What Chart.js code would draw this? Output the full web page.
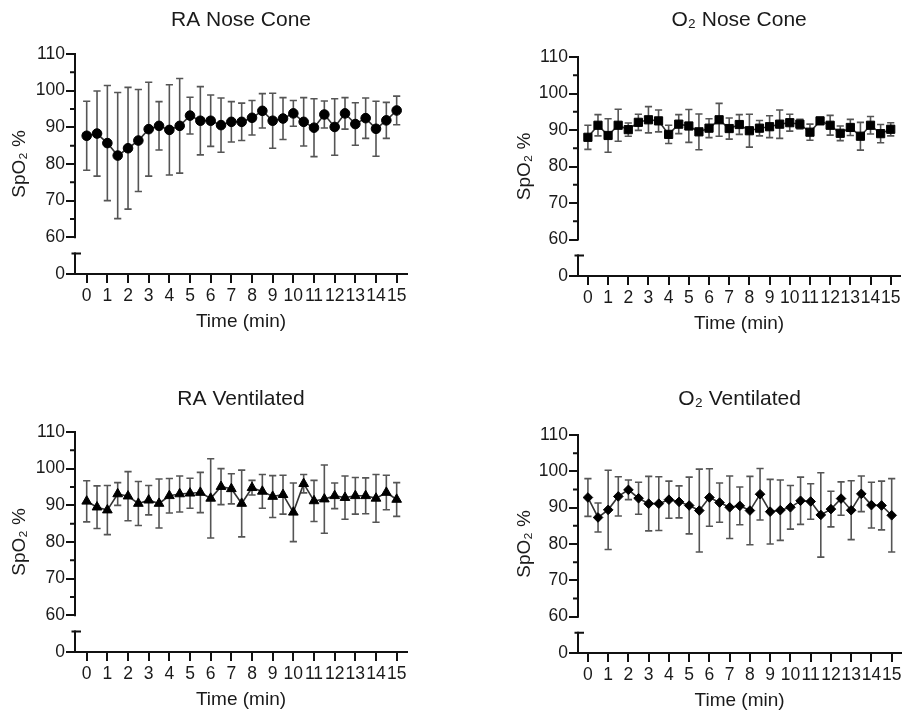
<!DOCTYPE html>
<html><head><meta charset="utf-8">
<script src="https://cdn.jsdelivr.net/npm/chart.js@4.4.1/dist/chart.umd.min.js"></script>
<style>
html,body{margin:0;padding:0;background:#fff;}
#wrap{position:relative;width:907px;height:712px;overflow:hidden;background:#fff;}
canvas{position:absolute;}
</style></head><body>
<div id="wrap">
<canvas id="c1"></canvas><canvas id="c2"></canvas><canvas id="c3"></canvas><canvas id="c4"></canvas>
</div>
<script>
// ---- data ----
const times = [0,0.5,1,1.5,2,2.5,3,3.5,4,4.5,5,5.5,6,6.5,7,7.5,8,8.5,9,9.5,10,10.5,11,11.5,12,12.5,13,13.5,14,14.5,15];
const xTicks = [0,1,2,3,4,5,6,7,8,9,10,11,12,13,14,15];
const yTicks = [50,60,70,80,90,100,110];          // 50 sits below the axis break and is labelled "0"
const yTickLabels = ['0','60','70','80','90','100','110'];
const yMinorTicks = [65,75,85,95,105];
const yBreakTop = 55.6;

const raNoseMean = [87.7,88.3,85.7,82.3,84.3,86.4,89.5,90.4,89.3,90.4,93.2,91.8,91.8,90.6,91.5,91.5,92.6,94.5,91.8,92.4,93.8,91.5,89.9,93.5,90.1,93.8,90.9,92.5,89.6,91.9,94.6];
const raNoseSD   = [9.4,11.6,15.7,17.2,16.6,13.9,12.8,6.6,12.3,12.9,5.0,9.3,7.0,7.4,5.5,5.1,4.7,4.7,7.5,5.7,3.5,6.6,7.9,3.7,7.7,4.3,5.8,5.5,7.5,4.9,3.9];

const o2NoseMean = [88.0,91.3,88.5,91.3,90.1,92.1,92.8,92.5,88.8,91.6,91.1,89.5,90.5,92.8,90.4,91.5,89.8,90.5,90.9,91.6,92.0,91.6,89.4,92.5,91.3,89.1,90.7,88.3,91.3,89.0,90.2];
const o2NoseSD   = [3.3,2.9,4.6,4.4,1.8,2.2,3.6,3.0,2.5,2.6,4.5,4.9,2.6,4.5,2.9,2.7,4.5,2.1,3.0,3.9,2.3,1.3,2.2,0.9,2.7,2.0,2.2,3.8,2.4,2.5,1.8];

const raVentMean = [91.1,89.5,88.7,93.1,92.5,90.5,91.4,90.5,92.6,93.1,93.3,93.5,91.9,95.1,94.5,90.5,94.8,93.8,92.4,92.9,88.1,95.9,91.2,91.7,92.6,92.1,92.6,92.6,91.9,93.5,91.6];
const raVentSD   = [5.6,5.8,6.7,3.1,6.7,6.0,4.0,6.7,4.7,4.9,4.1,5.5,10.8,4.9,4.1,9.1,2.0,4.6,5.7,5.3,8.0,2.5,5.6,9.3,3.5,5.9,5.0,4.9,6.5,4.7,4.6];

const o2VentMean = [92.8,87.3,89.4,93.1,94.9,92.6,91.1,91.1,92.2,91.6,90.6,89.2,92.8,91.4,90.1,90.5,89.2,93.7,88.9,89.3,90.1,91.9,91.7,88.0,89.6,92.5,89.3,93.8,90.7,90.6,87.9];
const o2VentSD   = [5.2,4.0,10.9,5.4,2.7,4.4,7.5,7.4,5.1,4.4,7.8,11.4,7.9,5.4,8.6,5.2,9.4,7.1,8.9,8.3,6.0,6.5,4.9,11.6,4.9,4.6,8.1,4.9,6.3,6.7,10.1];

// ---- layout / styles ----
const FONT = "'Liberation Sans', Arial, Helvetica, sans-serif";
const TEXT = '#1a1a1a';
const TITLE_SIZE = 21, AXIS_TITLE_SIZE = 19, TICK_SIZE = 17.5;
const panels = [
  {id:'c1', title:'RA Nose Cone',  mean:raNoseMean, sd:raNoseSD, style:'circle',   radius:4.8,
   box:[0,0,453,356],   area:{l:75,t:54,r:407,b:274}, xMin:-0.566, xMax:15.5, titleY:20.5, yTitleX:20, xTitleY:322, xLabelY:296},
  {id:'c2', title:'O\u2082 Nose Cone', mean:o2NoseMean, sd:o2NoseSD, style:'rect', radius:5.8,
   box:[453,0,454,356], area:{l:578,t:57,r:905,b:276}, xMin:-0.49, xMax:15.47, titleY:20.5, yTitleX:525, xTitleY:324, xLabelY:298},
  {id:'c3', title:'RA Ventilated', mean:raVentMean, sd:raVentSD, style:'triangle', radius:5.6,
   box:[0,356,453,356], area:{l:75,t:432,r:407,b:652}, xMin:-0.566, xMax:15.5, titleY:399, yTitleX:20, xTitleY:700, xLabelY:674},
  {id:'c4', title:'O\u2082 Ventilated', mean:o2VentMean, sd:o2VentSD, style:'rectRot', radius:4.8,
   box:[453,356,454,356], area:{l:578,t:435,r:905,b:653}, xMin:-0.49, xMax:15.47, titleY:399, yTitleX:525, xTitleY:701, xLabelY:675}
];

const errorBars = {
  id: 'errorBars',
  beforeDatasetsDraw(chart) {
    const {ctx, scales: {x, y}} = chart;
    const ds = chart.data.datasets[0];
    const cap = 3.6;
    ctx.save();
    ctx.strokeStyle = '#555';
    ctx.lineWidth = 1.6;
    ds.data.forEach(p => {
      const px = x.getPixelForValue(p.x);
      const yt = y.getPixelForValue(p.y + p.sd);
      const yb = y.getPixelForValue(p.y - p.sd);
      ctx.beginPath();
      ctx.moveTo(px, yt); ctx.lineTo(px, yb);
      ctx.moveTo(px - cap, yt); ctx.lineTo(px + cap, yt);
      ctx.moveTo(px - cap, yb); ctx.lineTo(px + cap, yb);
      ctx.stroke();
    });
    ctx.restore();
  }
};

const brokenAxis = {
  id: 'brokenAxis',
  beforeDatasetsDraw(chart) {
    const {ctx, scales: {y}, chartArea} = chart;
    const ax = chartArea.left;
    ctx.save();
    ctx.strokeStyle = '#111';
    ctx.lineWidth = 2;
    ctx.lineCap = 'square';
    ctx.beginPath();
    ctx.moveTo(ax, y.getPixelForValue(110));
    ctx.lineTo(ax, y.getPixelForValue(60));
    const bt = y.getPixelForValue(yBreakTop);
    ctx.moveTo(ax, y.getPixelForValue(50));
    ctx.lineTo(ax, bt);
    ctx.stroke();
    ctx.lineCap = 'butt';
    ctx.beginPath();
    ctx.moveTo(ax - 3.5, bt); ctx.lineTo(ax + 6, bt);
    yMinorTicks.forEach(v => {
      const py = y.getPixelForValue(v);
      ctx.moveTo(ax, py); ctx.lineTo(ax - 5, py);
    });
    ctx.stroke();
    ctx.restore();
  }
};

panels.forEach(P => {
  const cv = document.getElementById(P.id);
  const [bl, bt, bw, bh] = P.box;
  cv.width = bw; cv.height = bh;
  cv.style.left = bl + 'px'; cv.style.top = bt + 'px';
  cv.style.width = bw + 'px'; cv.style.height = bh + 'px';
  const A = P.area;
  const tLH = TITLE_SIZE * 1.2, aLH = AXIS_TITLE_SIZE * 1.2, kLH = TICK_SIZE * 1.2;
  const titlePadTop = P.titleY - bt - tLH / 2;
  const titlePadBottom = A.t - bt - tLH - titlePadTop;
  const xHeight = bt + bh - A.b;
  const xTitlePadBottom = bt + bh - P.xTitleY - aLH / 2;
  const xTickPad = P.xLabelY - A.b - 9 - kLH / 2;
  const yWidth = A.l - bl;
  const yTitlePadTop = P.yTitleX - bl - aLH / 2;

  const data = times.map((t, i) => ({x: t, y: P.mean[i], sd: P.sd[i]}));

  new Chart(cv, {
    type: 'line',
    data: {
      datasets: [{
        data: data,
        borderColor: '#333',
        borderWidth: 1.6,
        pointStyle: P.style,
        pointRadius: P.radius,
        pointHoverRadius: P.radius,
        pointBackgroundColor: '#000',
        pointBorderColor: '#000',
        pointBorderWidth: 1,
        tension: 0,
        fill: false,
        clip: false
      }]
    },
    options: {
      responsive: false,
      animation: false,
      devicePixelRatio: 1,
      layout: {padding: {left: 0, top: 0, bottom: 0, right: bl + bw - A.r}},
      plugins: {
        legend: {display: false},
        tooltip: {enabled: false},
        title: {
          display: true,
          text: P.title,
          fullSize: false,
          color: TEXT,
          font: {family: FONT, size: TITLE_SIZE, weight: 'normal'},
          padding: {top: titlePadTop, bottom: titlePadBottom}
        }
      },
      scales: {
        x: {
          type: 'linear',
          min: P.xMin, max: P.xMax,
          afterBuildTicks: s => { s.ticks = xTicks.map(v => ({value: v})); },
          afterFit: s => { s.height = xHeight; },
          grid: {display: true, drawOnChartArea: false, drawTicks: true, tickLength: 9, color: '#111', lineWidth: 2},
          border: {display: true, color: '#111', width: 2},
          ticks: {color: TEXT, font: {family: FONT, size: TICK_SIZE}, padding: xTickPad, maxRotation: 0, autoSkip: false,
                  callback: v => String(v)},
          title: {display: true, text: 'Time (min)', color: TEXT, font: {family: FONT, size: AXIS_TITLE_SIZE},
                  padding: {top: 0, bottom: xTitlePadBottom}}
        },
        y: {
          type: 'linear',
          min: 50, max: 110,
          afterBuildTicks: s => { s.ticks = yTicks.map(v => ({value: v})); },
          afterFit: s => { s.width = yWidth; },
          grid: {display: true, drawOnChartArea: false, drawTicks: true, tickLength: 9, color: '#111', lineWidth: 2},
          border: {display: false},
          ticks: {color: TEXT, font: {family: FONT, size: TICK_SIZE}, padding: 1,
                  callback: v => yTickLabels[yTicks.indexOf(v)]},
          title: {display: true, text: 'SpO\u2082 %', color: TEXT, font: {family: FONT, size: AXIS_TITLE_SIZE},
                  padding: {top: yTitlePadTop, bottom: 0}}
        }
      }
    },
    plugins: [errorBars, brokenAxis]
  });
});
</script>
</body></html>
